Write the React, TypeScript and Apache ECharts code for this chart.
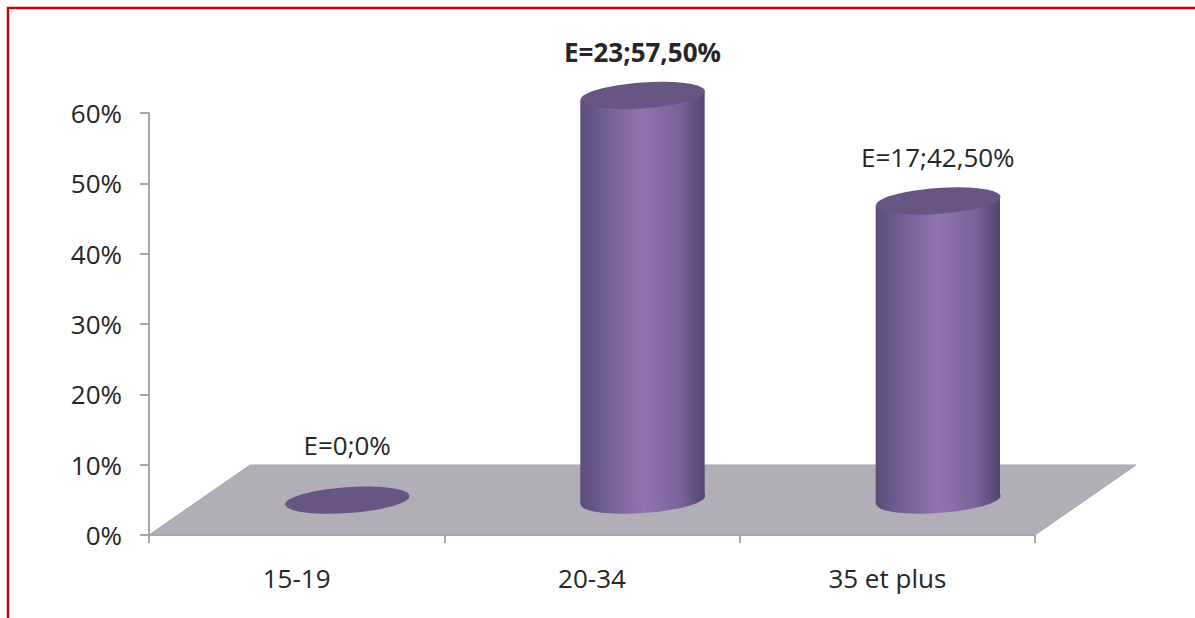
import React, { useEffect, useRef } from "react";
import * as echarts from "echarts";

const categories = ["15-19", "20-34", "35 et plus"];
const counts = [0, 23, 17];
const percents = [0, 57.5, 42.5];
const yTicks = [0, 10, 20, 30, 40, 50, 60];

const FONT = "'Open Sans', 'DejaVu Sans', sans-serif";
const TEXT = "#262626";
const AXIS = "#a6a6a6";
const DEPTH_X = 101;
const DEPTH_Y = 70;
const TILT = (4 * Math.PI) / 180;

function labelFor(i: number) {
  const p = percents[i];
  const ps = p === 0 ? "0" : p.toFixed(2).replace(".", ",");
  return `E=${counts[i]};${ps}%`;
}

export default function App() {
  const ref = useRef<HTMLDivElement>(null);
  useEffect(() => {
    const chart = echarts.init(ref.current!, null, { renderer: "svg" });
    const maxIdx = percents.indexOf(Math.max(...percents));

    const sideGradient = new echarts.graphic.LinearGradient(0, 0, 1, 0, [
      { offset: 0, color: "#5c4b7a" },
      { offset: 0.2, color: "#735f96" },
      { offset: 0.5, color: "#9174b0" },
      { offset: 0.8, color: "#7a629d" },
      { offset: 1, color: "#554470" },
    ]);

    chart.setOption({
      animation: false,
      backgroundColor: "#ffffff",
      graphic: [
        {
          type: "rect",
          shape: { x: 8, y: 8, width: 1400, height: 800 },
          style: { fill: "none", stroke: "#cc0000", lineWidth: 2.5 },
          silent: true,
          z: 100,
        },
      ],
      grid: { left: 149, right: 160, top: 113, bottom: 83 },
      xAxis: {
        type: "category",
        data: categories,
        axisLine: { show: true, lineStyle: { color: AXIS, width: 2 } },
        axisTick: { show: true, length: 8, lineStyle: { color: AXIS, width: 2 } },
        axisLabel: { color: TEXT, fontFamily: FONT, fontSize: 26, margin: 30 },
        splitLine: { show: false },
        z: 1,
      },
      yAxis: {
        type: "value",
        min: yTicks[0],
        max: yTicks[yTicks.length - 1],
        interval: yTicks[1] - yTicks[0],
        axisLine: { show: true, lineStyle: { color: AXIS, width: 2 } },
        axisTick: { show: true, length: 9, lineStyle: { color: AXIS, width: 2 } },
        axisLabel: {
          color: TEXT,
          fontFamily: FONT,
          fontSize: 26,
          margin: 27,
          formatter: "{value}%",
        },
        splitLine: { show: false },
        z: 1,
      },
      series: [
        {
          type: "custom",
          z: 0,
          silent: true,
          data: [[0, 0]],
          renderItem: (params: any, api: any) => {
            const cs = params.coordSys;
            const y0 = api.coord([0, 0])[1];
            const x0 = cs.x;
            const x1 = cs.x + cs.width;
            return {
              type: "polygon",
              shape: {
                points: [
                  [x0, y0],
                  [x1, y0],
                  [x1 + DEPTH_X, y0 - DEPTH_Y],
                  [x0 + DEPTH_X, y0 - DEPTH_Y],
                ],
              },
              style: { fill: "#b1aeb7", stroke: "#a9a6ae", lineWidth: 1 },
            };
          },
        },
        {
          type: "custom",
          z: 3,
          data: percents.map((p, i) => [i, p]),
          renderItem: (params: any, api: any) => {
            const i = api.value(0);
            const v = api.value(1);
            const base = api.coord([i, 0]);
            const top = api.coord([i, v]);
            const band = api.size([1, 0])[0];
            const rx = band * 0.211;
            const ry = 13;
            const cx = base[0] + DEPTH_X / 2;
            const by = base[1] - DEPTH_Y / 2;
            const ty = top[1] - DEPTH_Y / 2;
            const dxr = rx * Math.cos(TILT);
            const dyr = rx * Math.sin(TILT);
            const children: any[] = [];
            if (v > 0) {
              children.push({
                type: "ellipse",
                shape: { cx, cy: by, rx, ry },
                rotation: TILT,
                originX: cx,
                originY: by,
                style: { fill: sideGradient },
              });
              children.push({
                type: "polygon",
                shape: {
                  points: [
                    [cx - dxr, ty + dyr],
                    [cx + dxr, ty - dyr],
                    [cx + dxr, by - dyr],
                    [cx - dxr, by + dyr],
                  ],
                },
                style: { fill: sideGradient },
              });
            }
            children.push({
              type: "ellipse",
              shape: { cx, cy: ty, rx, ry },
              rotation: TILT,
              originX: cx,
              originY: ty,
              style: { fill: "#695583" },
            });
            children.push({
              type: "text",
              x: cx,
              y: ty - (v > 0 ? 44 : 55),
              style: {
                text: labelFor(i),
                fill: TEXT,
                fontFamily: FONT,
                fontSize: 26,
                fontWeight: i === maxIdx ? "bold" : "normal",
                align: "center",
                verticalAlign: "middle",
              },
            });
            return { type: "group", children };
          },
        },
      ],
    });
    return () => chart.dispose();
  }, []);
  return (
    <div style={{ position: "fixed", left: 0, top: 0, width: 1195, height: 618, background: "#fff" }}>
      <div ref={ref} style={{ width: 1195, height: 618 }} />
    </div>
  );
}
